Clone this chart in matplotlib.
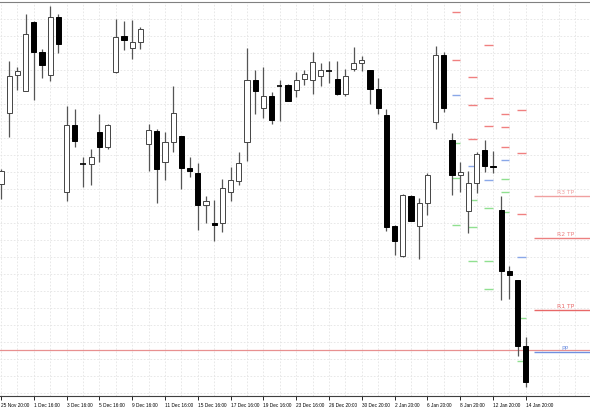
import matplotlib
matplotlib.use("Agg")
import matplotlib.pyplot as plt

# candle values (chart units, larger = lower on chart)
opens  = [185,114,76,92,23,53,76,18,193,126,165,165,133,148,73,37,49,43,145,132,163,143,137,169,174,206,224,224,193,182,143,81,109,97,87,86,91,80,81,77,72,80,95,70,64,71,90,116,227,257,197,227,204,123,56,141,176,212,184,151,167,211,272,281,347]
highs  = [170,62,68,15,22,50,7,15,107,110,158,150,115,125,20,22,21,28,125,130,133,87,137,158,164,197,201,180,168,153,49,71,68,93,81,85,73,71,53,64,62,62,70,48,57,71,79,110,226,195,196,199,174,47,53,134,163,172,153,141,152,197,267,281,338]
lows   = [200,138,91,92,101,79,82,54,202,148,188,186,163,150,74,51,60,50,172,204,181,153,190,178,231,224,242,233,202,186,162,115,119,125,122,102,98,86,95,87,84,96,97,72,72,105,115,232,256,258,222,260,216,130,113,196,193,234,194,173,174,301,300,357,388]
closes = [172,77,72,35,53,66,18,45,126,142,165,158,148,126,38,41,43,30,131,170,143,114,169,172,206,202,226,189,181,164,81,92,97,121,87,102,81,75,63,71,72,95,77,64,61,90,109,228,242,196,222,204,176,56,109,176,173,184,155,167,168,272,276,347,383]

# daily pivot markers: start candle, resistance, pivot, support levels
piv_start = [55, 57, 59, 61, 63]
piv_res   = [[13, 61], [78, 106, 140], [46, 99, 127], [115, 128, 148], [111, 154, 215]]
piv_pp    = [96, 167, 181, 161, 258]
piv_sup   = [[144, 179, 226], [201, 228, 262], [209, 262, 290], [180, 193, 213], [319, 362]]

tp_names  = ["R3 TP", "R2 TP", "R1 TP", "PP"]
tp_levels = [197, 239, 311, 353]
tp_colors = ["#f0a0a0", "#ec8080", "#e86868", "#7090e0"]
day_line  = 351

tick_labels = ["25 Nov 20:00","1 Dec 16:00","3 Dec 16:00","5 Dec 16:00","9 Dec 16:00",
               "11 Dec 16:00","15 Dec 16:00","17 Dec 16:00","19 Dec 16:00","23 Dec 16:00",
               "26 Dec 20:00","30 Dec 20:00","2 Jan 20:00","6 Jan 20:00","8 Jan 20:00",
               "12 Jan 20:00","14 Jan 20:00"]

fig = plt.figure(figsize=(5.9, 4.1), dpi=100)
ax = fig.add_axes([0, 13/410, 1, 394/410])
ax.set_xlim(-0.12, 71.83)
ax.set_ylim(397, 3)

# grid
for gx in [i * 2.0 for i in range(37)]:
    ax.axvline(gx, color="#e4e4e4", lw=0.6, ls=(0, (2, 2)), zorder=0)
for gy in range(20, 397, 17):
    ax.axhline(gy, color="#e4e4e4", lw=0.6, ls=(0, (2, 2)), zorder=0)

w = 0.62
for i, (o, h, l, c) in enumerate(zip(opens, highs, lows, closes)):
    ax.vlines(i, h, l, color="#555555", lw=0.9, zorder=2)
    bull = c < o
    top, bot = min(o, c), max(o, c)
    if bot - top < 1:
        ax.hlines(o, i - w / 2, i + w / 2, color="black", lw=1.2, zorder=3)
        continue
    ax.add_patch(plt.Rectangle((i - w / 2, top), w, bot - top,
                               facecolor="white" if bull else "black",
                               edgecolor="#444444" if bull else "black", lw=0.7, zorder=3))

for s, res, pp, sup in zip(piv_start, piv_res, piv_pp, piv_sup):
    for r in res:
        ax.hlines(r, s - 0.05, s + 1, color="#f08080", lw=1, zorder=1)
    ax.hlines(pp, s - 0.05, s + 1, color="#8aa8e8", lw=1, zorder=1)
    for g in sup:
        ax.hlines(g, s - 0.05, s + 1, color="#90e090", lw=1, zorder=1)

ax.axhline(day_line, color="#e89090", lw=0.9, zorder=1)
for n, lv, col in zip(tp_names, tp_levels, tp_colors):
    ax.hlines(lv, 65, 71.83, color=col, lw=1.0, zorder=1)
    ax.text(68.8, lv - 2, n, color=col, fontsize=4.3, ha="center", va="bottom")

ax.set_xticks([4 * k for k in range(len(tick_labels))])
ax.set_xticklabels(tick_labels, fontsize=3.4, ha="left", family="Liberation Sans")
ax.tick_params(axis="x", length=3, width=0.6, pad=1, colors="black")
ax.set_yticks([])
for s in ["left", "right"]:
    ax.spines[s].set_visible(False)
ax.spines["top"].set_color("#808080")
ax.spines["bottom"].set_color("#404040")
fig.savefig("out.png", dpi=100)
